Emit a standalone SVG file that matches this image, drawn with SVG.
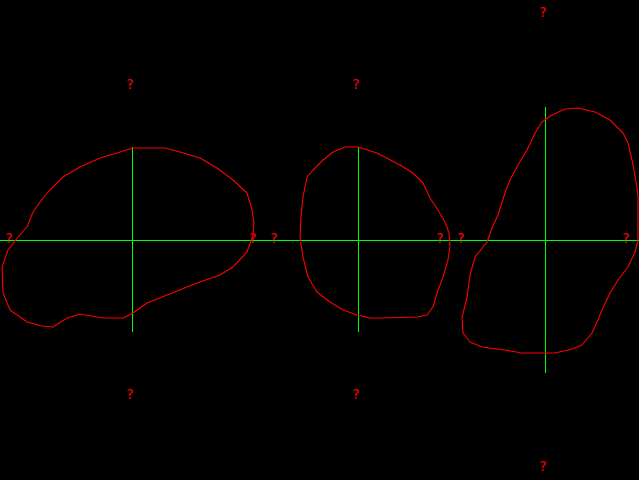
<svg xmlns="http://www.w3.org/2000/svg" width="639" height="480" viewBox="0 0 639 480">
<style>
.blob{fill:none;stroke:#ff0000;stroke-width:1.1;stroke-linejoin:round}
.axis{stroke:#00ff00;stroke-width:1;fill:none;shape-rendering:crispEdges}
.q{fill:#ff0000;font-family:"DejaVu Sans",sans-serif;font-size:14px;text-anchor:middle}
</style>
<rect width="639" height="480" fill="#000"/>
<g id="connectors">
<line class="axis" x1="0" y1="240.5" x2="639" y2="240.5"/>
<line class="axis" x1="132.5" y1="147" x2="132.5" y2="332"/>
<line class="axis" x1="358.5" y1="147" x2="358.5" y2="332"/>
<line class="axis" x1="545.5" y1="107" x2="545.5" y2="373"/>
</g>
<g id="shape1">
<polygon class="blob" points="133,148 165,148 180,152 200,158 217,168 233,180 247,193 252,210 254,223 253,235 247,252 233,267 220,275 200,282 187,287 167,295 147,303 133,313 123,318 103,318 80,314 67,318 53,327 42,326 27,322 10,310 3,293 2,267 8,250 18,237 27,227 33,212 43,198 50,190 63,177 80,167 100,158 117,153"/>
</g>
<g id="shape2">
<polygon class="blob" points="345,147 358,147 377,153 400,165 413,173 423,183 430,198 438,210 445,222 449,233 450,247 448,260 443,277 437,293 433,307 427,315 417,317 380,318 370,318 357,315 343,310 330,302 317,292 308,277 303,257 300,237 301,217 303,197 307,177 313,170 323,160 333,152"/>
</g>
<g id="shape3">
<polygon class="blob" points="578,108 595,112 610,120 623,133 628,143 632,160 637,187 638,197 638,240 635,252 628,267 618,280 610,293 602,310 598,320 592,333 582,345 572,349 555,353 545,353 522,353 505,350 482,347 470,342 463,333 462,318 467,297 470,275 475,257 487,242 492,228 498,215 505,193 510,180 518,165 527,150 535,133 542,122 552,115 565,109"/>
</g>
<g id="labels">
<text class="q" x="130" y="89">?</text>
<text class="q" x="356" y="89">?</text>
<text class="q" x="543" y="17">?</text>
<text class="q" x="130" y="399">?</text>
<text class="q" x="356" y="399">?</text>
<text class="q" x="543" y="471">?</text>
<text class="q" x="9" y="243">?</text>
<text class="q" x="253" y="243">?</text>
<text class="q" x="274" y="243">?</text>
<text class="q" x="440" y="243">?</text>
<text class="q" x="461" y="243">?</text>
<text class="q" x="626" y="243">?</text>
</g>
</svg>
